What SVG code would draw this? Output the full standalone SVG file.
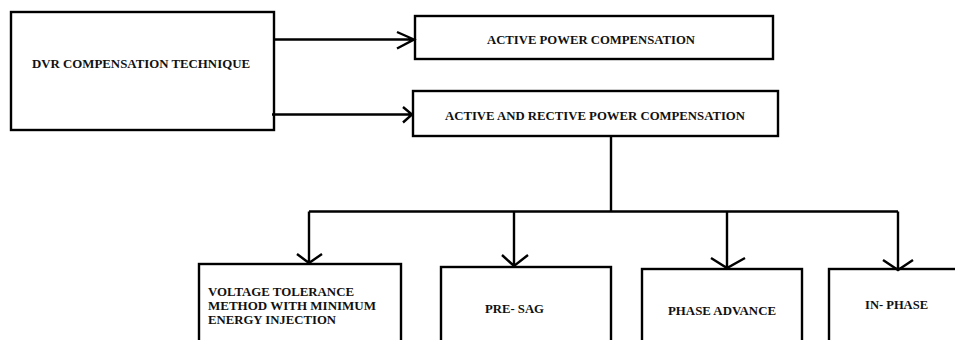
<svg xmlns="http://www.w3.org/2000/svg" width="955" height="340" viewBox="0 0 955 340">
<style>
.box{fill:#fff;stroke:#000;stroke-width:2.4}
.t{font-family:"Liberation Serif","Times New Roman",serif;font-weight:bold;font-size:13.5px;fill:#111}
.c{fill:none;stroke:#000;stroke-width:2.4}
</style>
<rect width="955" height="340" fill="#fff"/>
<g id="dvr">
<rect class="box" x="11" y="12" width="263" height="118"/>
<text class="t" x="32" y="68" textLength="218" lengthAdjust="spacingAndGlyphs">DVR COMPENSATION TECHNIQUE</text>
</g>
<g id="active">
<rect class="box" x="415" y="16" width="358" height="43"/>
<text class="t" x="487" y="44" textLength="208" lengthAdjust="spacingAndGlyphs">ACTIVE POWER COMPENSATION</text>
</g>
<g id="activereactive">
<rect class="box" x="413" y="91" width="365" height="45"/>
<text class="t" x="445" y="120" textLength="300" lengthAdjust="spacingAndGlyphs">ACTIVE AND RECTIVE POWER COMPENSATION</text>
</g>
<g id="voltage">
<rect class="box" x="199" y="264" width="202" height="100"/>
<text class="t" x="208" y="296" textLength="146" lengthAdjust="spacingAndGlyphs">VOLTAGE TOLERANCE</text>
<text class="t" x="208" y="310" textLength="168" lengthAdjust="spacingAndGlyphs">METHOD WITH MINIMUM</text>
<text class="t" x="208" y="324" textLength="128" lengthAdjust="spacingAndGlyphs">ENERGY INJECTION</text>
</g>
<g id="presag">
<rect class="box" x="441" y="267" width="170" height="100"/>
<text class="t" x="485" y="313" textLength="59" lengthAdjust="spacingAndGlyphs">PRE- SAG</text>
</g>
<g id="phaseadvance">
<rect class="box" x="642" y="269" width="160" height="100"/>
<text class="t" x="668" y="315" textLength="108" lengthAdjust="spacingAndGlyphs">PHASE ADVANCE</text>
</g>
<g id="inphase">
<rect class="box" x="829" y="269" width="160" height="100"/>
<text class="t" x="865" y="309" textLength="63" lengthAdjust="spacingAndGlyphs">IN- PHASE</text>
</g>
<g id="connectors">
<path class="c" d="M274 39.5H414M397 32L414 39.5L397 48.5"/>
<path class="c" d="M272 114.5H412M403 107L412 114.5L403 122.5"/>
<path class="c" d="M611 136V211.5M309 211.5H898"/>
<path class="c" d="M309 211.5V263M297 254L309 263L322 254"/>
<path class="c" d="M514 211.5V266M502 255L514 266L528 255"/>
<path class="c" d="M727 211.5V268M711 258L727 268L745 258"/>
<path class="c" d="M898 211.5V270M883 260L898 270L913 260"/>
</g>
</svg>
